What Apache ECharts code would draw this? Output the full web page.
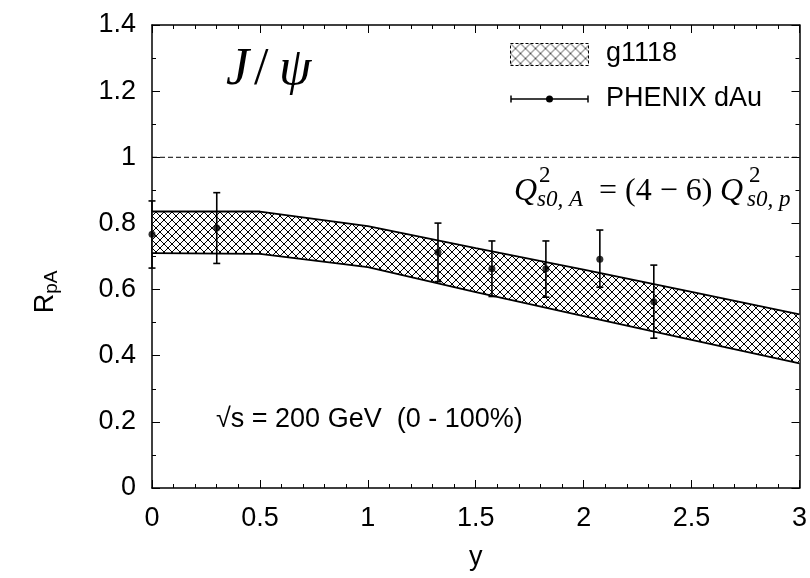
<!DOCTYPE html>
<html>
<head>
<meta charset="utf-8">
<script src="https://cdn.jsdelivr.net/npm/echarts@6/dist/echarts.min.js"></script>
<style>
html,body{margin:0;padding:0;background:#fff;}
#chart{width:810px;height:578px;}
</style>
</head>
<body>
<div id="chart"></div>
<script>
// ---- data ----
const dataX = [0, 0.3, 1.325, 1.575, 1.825, 2.075, 2.325];
const dataY = [0.767, 0.786, 0.713, 0.663, 0.663, 0.692, 0.563];
const dataHi = [0.868, 0.893, 0.801, 0.747, 0.747, 0.780, 0.674];
const dataLo = [0.665, 0.679, 0.624, 0.579, 0.577, 0.607, 0.453];
const bandX = [0, 0.5, 1, 1.5, 2, 2.5, 3];
const bandUpper = [0.836, 0.836, 0.792, 0.725, 0.660, 0.593, 0.525];
const bandLower = [0.710, 0.708, 0.668, 0.592, 0.520, 0.448, 0.377];
const refLine = [[0, 1], [3, 1]];
const bandName = 'g1118';
const dataName = 'PHENIX dAu';

// ---- hatch pattern ----
function makeHatch(size, lw, color) {
  const c = document.createElement('canvas');
  c.width = size; c.height = size;
  const g = c.getContext('2d');
  g.fillStyle = '#fff'; g.fillRect(0, 0, size, size);
  g.strokeStyle = color; g.lineWidth = lw;
  for (const off of [-size, 0, size]) {
    g.beginPath(); g.moveTo(off, 0); g.lineTo(off + size, size); g.stroke();
    g.beginPath(); g.moveTo(off + size, 0); g.lineTo(off, size); g.stroke();
  }
  return c;
}
const hatch = { image: makeHatch(8, 1, '#000'), repeat: 'repeat' };
const hatchLegend = { image: makeHatch(10, 0.8, '#222'), repeat: 'repeat' };

const SANS = '"Liberation Sans", Arial, Helvetica, sans-serif';
const SERIF = '"Liberation Serif", "Times New Roman", serif';
const FS = 27;

const chart = echarts.init(document.getElementById('chart'));

const axisCommon = {
  axisLine: { show: true, onZero: false, lineStyle: { color: '#000', width: 1.5 } },
  axisTick: { show: true, inside: true, length: 8, lineStyle: { color: '#000', width: 1 } },
  minorTick: { show: true, length: 4, lineStyle: { color: '#000', width: 1 } },
  splitLine: { show: false },
  minorSplitLine: { show: false }
};

function txt(x, y, text, font, extra) {
  return Object.assign({ type: 'text', x: x, y: y, z: 10,
    style: { text: text, font: font, fill: '#000', verticalAlign: 'middle' } }, extra || {});
}

const option = {
  animation: false,
  backgroundColor: '#fff',
  grid: { left: 152, right: 10, top: 25, bottom: 90, containLabel: false },
  xAxis: [
    Object.assign({}, axisCommon, {
      type: 'value', min: 0, max: 3, interval: 0.5, position: 'bottom',
      minorTick: Object.assign({}, axisCommon.minorTick, { splitNumber: 5 }),
      axisLabel: { color: '#000', fontFamily: SANS, fontSize: FS, margin: 17 },
      name: 'y', nameLocation: 'middle', nameGap: 56,
      nameTextStyle: { color: '#000', fontFamily: SANS, fontSize: FS }
    }),
    Object.assign({}, axisCommon, {
      type: 'value', min: 0, max: 3, interval: 0.5, position: 'top',
      minorTick: Object.assign({}, axisCommon.minorTick, { splitNumber: 5 }),
      axisLabel: { show: false }
    })
  ],
  yAxis: [
    Object.assign({}, axisCommon, {
      type: 'value', min: 0, max: 1.4, interval: 0.2, position: 'left',
      minorTick: Object.assign({}, axisCommon.minorTick, { splitNumber: 2 }),
      axisLabel: { color: '#000', fontFamily: SANS, fontSize: FS, margin: 16 }
    }),
    Object.assign({}, axisCommon, {
      type: 'value', min: 0, max: 1.4, interval: 0.2, position: 'right',
      minorTick: Object.assign({}, axisCommon.minorTick, { splitNumber: 2 }),
      axisLabel: { show: false }
    })
  ],
  series: [
    {
      name: bandName,
      type: 'custom',
      coordinateSystem: 'cartesian2d',
      xAxisIndex: 0, yAxisIndex: 0,
      data: [[bandX[0], bandUpper[0]]],
      encode: { x: 0, y: 1 },
      silent: true,
      z: 1,
      renderItem: function (params, api) {
        const pts = [];
        for (let i = 0; i < bandX.length; i++) pts.push(api.coord([bandX[i], bandUpper[i]]));
        for (let i = bandX.length - 1; i >= 0; i--) pts.push(api.coord([bandX[i], bandLower[i]]));
        return { type: 'polygon', shape: { points: pts }, style: { fill: hatch, stroke: null } };
      }
    },
    {
      type: 'line', xAxisIndex: 0, yAxisIndex: 0, z: 2,
      data: bandX.map((x, i) => [x, bandUpper[i]]),
      showSymbol: false, symbol: 'none', silent: true,
      lineStyle: { color: '#000', width: 1.8 }
    },
    {
      type: 'line', xAxisIndex: 0, yAxisIndex: 0, z: 2,
      data: bandX.map((x, i) => [x, bandLower[i]]),
      showSymbol: false, symbol: 'none', silent: true,
      lineStyle: { color: '#000', width: 1.8 }
    },
    {
      type: 'line', xAxisIndex: 0, yAxisIndex: 0, z: 2,
      data: refLine,
      showSymbol: false, symbol: 'none', silent: true,
      lineStyle: { color: '#000', width: 1, type: [5, 3] }
    },
    {
      name: dataName + ' errors',
      type: 'custom',
      coordinateSystem: 'cartesian2d',
      xAxisIndex: 0, yAxisIndex: 0, z: 3,
      data: dataX.map((x, i) => [x, dataLo[i], dataHi[i]]),
      encode: { x: 0, y: [1, 2] },
      silent: true,
      renderItem: function (params, api) {
        const lo = api.coord([api.value(0), api.value(1)]);
        const hi = api.coord([api.value(0), api.value(2)]);
        const w = 3.5;
        const st = { stroke: '#000', lineWidth: 1.6 };
        return {
          type: 'group',
          children: [
            { type: 'line', shape: { x1: lo[0], y1: lo[1], x2: hi[0], y2: hi[1] }, style: st },
            { type: 'line', shape: { x1: lo[0] - w, y1: lo[1], x2: lo[0] + w, y2: lo[1] }, style: st },
            { type: 'line', shape: { x1: hi[0] - w, y1: hi[1], x2: hi[0] + w, y2: hi[1] }, style: st }
          ]
        };
      }
    },
    {
      name: dataName,
      type: 'scatter', xAxisIndex: 0, yAxisIndex: 0, z: 4,
      data: dataX.map((x, i) => [x, dataY[i]]),
      symbol: 'circle', symbolSize: 7,
      itemStyle: { color: '#000' },
      silent: true
    }
  ],
  graphic: [
    // legend: band
    { type: 'rect', left: 510, top: 43, shape: { width: 78, height: 22 },
      style: { fill: hatchLegend, stroke: '#000', lineWidth: 1, lineDash: [3, 2] }, z: 10 },
    txt(606, 54, bandName, FS + 'px ' + SANS),
    // legend: data
    { type: 'line', shape: { x1: 511, y1: 99, x2: 588, y2: 99 }, style: { stroke: '#000', lineWidth: 1.5 }, z: 10 },
    { type: 'line', shape: { x1: 511, y1: 95.5, x2: 511, y2: 102.5 }, style: { stroke: '#000', lineWidth: 1.5 }, z: 10 },
    { type: 'line', shape: { x1: 588, y1: 95.5, x2: 588, y2: 102.5 }, style: { stroke: '#000', lineWidth: 1.5 }, z: 10 },
    { type: 'circle', shape: { cx: 549.5, cy: 99, r: 3.5 }, style: { fill: '#000' }, z: 10 },
    txt(606, 99, dataName, FS + 'px ' + SANS),
    // J/psi
    txt(226, 70, 'J', 'italic 52px ' + SERIF),
    txt(254, 70, '/', '52px ' + SERIF),
    txt(279, 70, 'ψ', 'italic 52px ' + SERIF),
    // sqrt(s) annotation
    txt(216, 420, '√s = 200 GeV  (0 - 100%)', FS + 'px ' + SANS),
    // Q^2 formula
    txt(514, 192, 'Q', 'italic 32px ' + SERIF),
    txt(539, 176, '2', '23px ' + SERIF),
    txt(537, 200, 's0, A', 'italic 23px ' + SERIF),
    txt(599, 192, '= (4 − 6)', '32px ' + SERIF),
    txt(720, 192, 'Q', 'italic 32px ' + SERIF),
    txt(749, 176, '2', '23px ' + SERIF),
    txt(747, 200, 's0, p', 'italic 23px ' + SERIF),
    // y-axis title R_pA
    { type: 'text', x: 46, y: 292, rotation: Math.PI / 2, z: 10,
      style: { text: 'R{s|pA}', font: FS + 'px ' + SANS, fill: '#000', align: 'center', verticalAlign: 'middle',
        rich: { s: { fontFamily: SANS, fontSize: 19, fill: '#000', verticalAlign: 'bottom', padding: [12, 0, 0, 0] } } } }
  ]
};
chart.setOption(option);
</script>
</body>
</html>
